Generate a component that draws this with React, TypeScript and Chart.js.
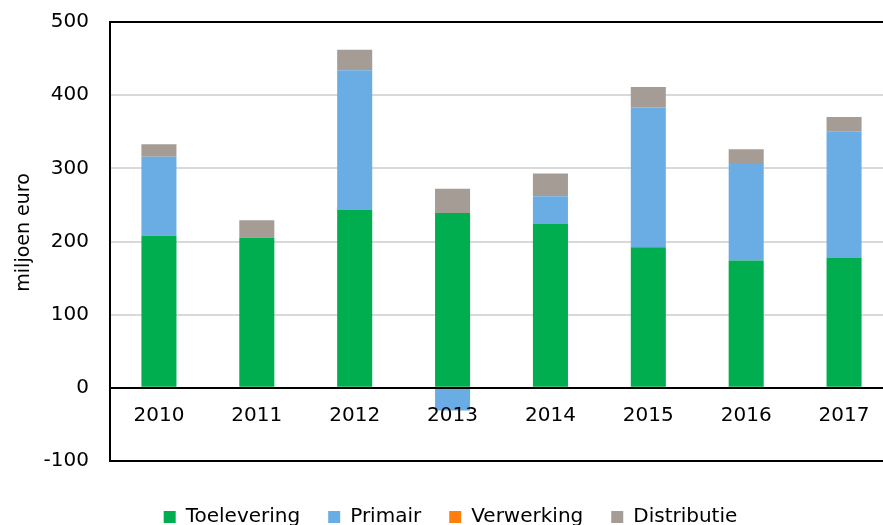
import React, { useEffect, useRef } from "react";
import { Chart, registerables } from "chart.js";

Chart.register(...registerables);

const categories = ["2010", "2011", "2012", "2013", "2014", "2015", "2016", "2017"];
const toelevering = [208, 205, 243, 239, 224, 192, 174, 178];
const primair = [108, 0, 191, -31, 38, 191, 132, 172];
const verwerking = [0, 0, 0, 0, 0, 0, 0, 0];
const distributie = [17, 24, 28, 33, 31, 28, 20, 20];
const yTitle = "miljoen euro";

const FONT = "'DejaVu Sans', Verdana, sans-serif";

export default function App() {
  const ref = useRef<HTMLCanvasElement | null>(null);

  useEffect(() => {
    if (!ref.current) return;
    const chart = new Chart(ref.current, {
      type: "bar",
      data: {
        labels: categories,
        datasets: [
          { label: "Toelevering", data: toelevering, backgroundColor: "#00ad4f", xAxisID: "x", borderWidth: 0 },
          { label: "Primair", data: primair, backgroundColor: "#6aade4", xAxisID: "x", borderWidth: 0 },
          { label: "Verwerking", data: verwerking, backgroundColor: "#ff7f0e", xAxisID: "x", borderWidth: 0 },
          { label: "Distributie", data: distributie, backgroundColor: "#a59c95", xAxisID: "x", borderWidth: 0 },
        ],
      },
      options: {
        responsive: false,
        animation: false,
        layout: { padding: { left: 8, right: 2, top: 22, bottom: 0 } },
        datasets: { bar: { categoryPercentage: 1, barPercentage: 0.358 } },
        plugins: {
          tooltip: { enabled: false },
          legend: {
            position: "bottom",
            labels: {
              font: { family: FONT, size: 20 },
              color: "#000",
              boxWidth: 12,
              boxHeight: 12,
              padding: 28,
            },
          },
        },
        scales: {
          x: {
            type: "category",
            stacked: true,
            position: { y: 0 } as any,
            grid: { display: false },
            border: { display: true, color: "#000", width: 2, z: 1 },
            ticks: { font: { family: FONT, size: 20 }, color: "#000", padding: 8, z: 1, maxRotation: 0 },
          },
          xpad: {
            type: "category",
            axis: "x",
            position: "bottom",
            display: true,
            grid: { display: false },
            border: { display: false },
            ticks: { display: false },
            afterFit: (s: any) => {
              s.height = 18;
            },
          },
          y: {
            stacked: true,
            min: -100,
            max: 500,
            afterFit: (s: any) => {
              s.width = 102;
            },
            ticks: { stepSize: 100, font: { family: FONT, size: 20 }, color: "#000", padding: 0 },
            grid: {
              drawTicks: true,
              tickLength: 21,
              tickColor: "rgba(0,0,0,0)",
              lineWidth: 2,
              color: (ctx: any) => {
                const v = ctx.tick ? ctx.tick.value : null;
                return v === 500 || v === -100 || v === 0 ? "#000" : "#d9d9d9";
              },
            },
            border: { display: true, color: "#000", width: 2, z: 1 },
            title: {
              display: true,
              text: "   " + yTitle,
              font: { family: FONT, size: 19 },
              color: "#000",
              padding: { top: 5, bottom: 0 },
            },
          },
        },
      } as any,
    });
    return () => chart.destroy();
  }, []);

  return (
    <div style={{ position: "fixed", left: 0, top: 0, width: 883, height: 525, overflow: "hidden", background: "#fff" }}>
      <canvas ref={ref} width={895} height={537} style={{ display: "block", width: 895, height: 537 }} />
    </div>
  );
}
